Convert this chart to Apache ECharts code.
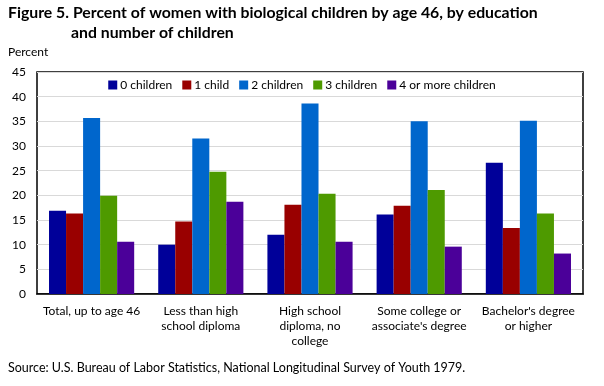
<!DOCTYPE html>
<html><head><meta charset="utf-8">
<script src="https://cdn.jsdelivr.net/npm/echarts@6/dist/echarts.min.js"></script>
<style>html,body{margin:0;padding:0;background:#fff}#c{width:604px;height:386px}</style>
</head><body><div id="c"></div>
<script>
const categories = ["Total, up to age 46", "Less than high\nschool diploma", "High school\ndiploma, no\ncollege", "Some college or\nassociate's degree", "Bachelor's degree\nor higher"];
const seriesNames = ["0 children", "1 child", "2 children", "3 children", "4 or more children"];
const zeroChildren = [16.9, 10.0, 12.0, 16.1, 26.6];
const oneChild = [16.3, 14.7, 18.1, 17.9, 13.4];
const twoChildren = [35.7, 31.5, 38.6, 35.0, 35.1];
const threeChildren = [19.9, 24.8, 20.3, 21.1, 16.3];
const fourPlus = [10.6, 18.7, 10.6, 9.6, 8.2];
const yTicks = [0, 5, 10, 15, 20, 25, 30, 35, 40, 45];
const colors = ["#000099", "#990000", "#0066CC", "#4E9A00", "#4B0099"];

const FONT = "Lato";
const chart = echarts.init(document.getElementById('c'));
const values = [zeroChildren, oneChild, twoChildren, threeChildren, fourPlus];
chart.setOption({
  animation: false,
  textStyle: {fontFamily: FONT, color: '#000'},
  graphic: [
    {type: 'text', left: 8, top: 5, style: {text: 'Figure 5. Percent of women with biological children by age 46, by education', font: 'bold 15.8px ' + FONT, fill: '#000'}},
    {type: 'text', left: 71, top: 25, style: {text: 'and number of children', font: 'bold 15.8px ' + FONT, fill: '#000'}},
    {type: 'text', left: 8, top: 46, style: {text: 'Percent', font: '12px ' + FONT, fill: '#000'}},
    {type: 'text', left: 8, top: 361, style: {text: 'Source: U.S. Bureau of Labor Statistics, National Longitudinal Survey of Youth 1979.', font: '12.5px ' + FONT, fill: '#000'}}
  ],
  legend: {
    top: 74, left: 'center', itemWidth: 9, itemHeight: 9, itemGap: 10,
    icon: 'rect',
    textStyle: {fontFamily: FONT, fontSize: 12, color: '#000', padding: [0,0,0,-2]},
    data: seriesNames
  },
  grid: {left: 37, right: 21, top: 72, bottom: 92, show: true, borderColor: '#000', borderWidth: 1.5, containLabel: false},
  xAxis: {
    type: 'category', data: categories,
    axisLine: {show: true, lineStyle: {color: '#000', width: 1.5}},
    axisTick: {show: false},
    axisLabel: {fontFamily: FONT, fontSize: 12, color: '#000', margin: 10, lineHeight: 15, interval: 0}
  },
  yAxis: {
    type: 'value', min: 0, max: 45, interval: 5,
    axisLine: {show: false}, axisTick: {show: false},
    axisLabel: {fontFamily: FONT, fontSize: 12, color: '#000', margin: 11,
      formatter: v => yTicks.includes(v) ? String(v) : ''},
    splitLine: {lineStyle: {color: '#d9d9d9', width: 1}}
  },
  series: seriesNames.map((n, i) => ({
    name: n, type: 'bar', data: values[i], barGap: '0%', barCategoryGap: '22%',
    itemStyle: {color: colors[i]}
  }))
});
</script></body></html>
